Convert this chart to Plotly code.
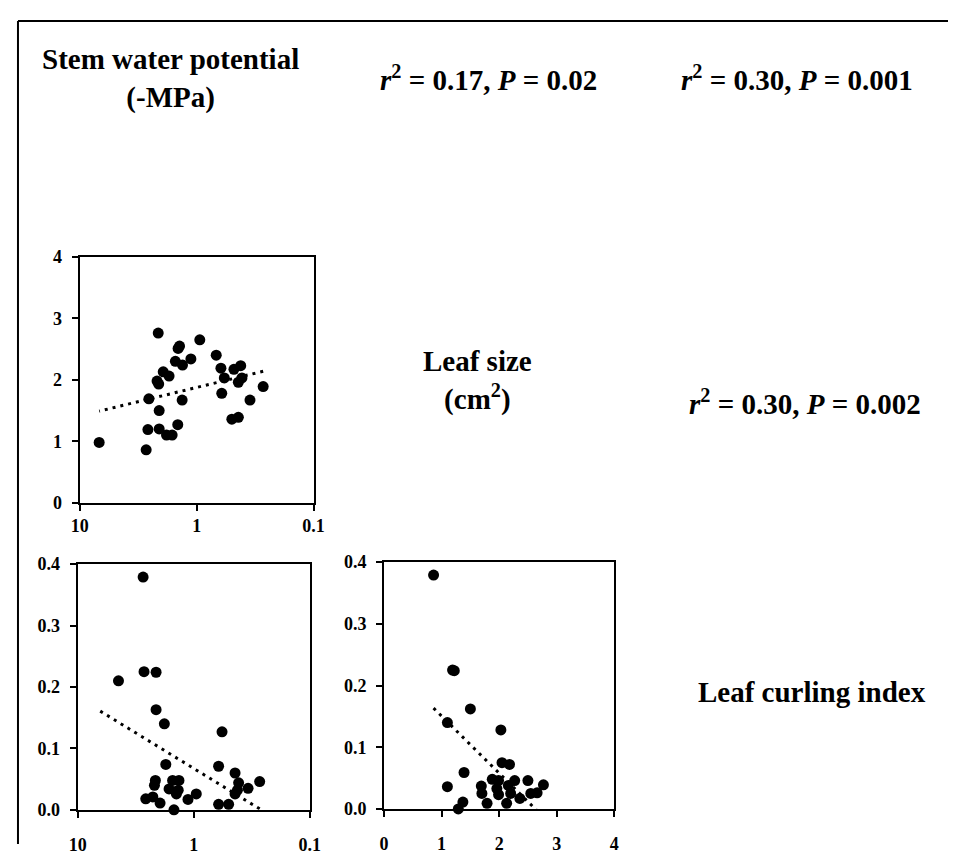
import numpy as np
import plotly.graph_objects as go

# ---------------------------------------------------------------------------
# Data
# ---------------------------------------------------------------------------
# Panel A: stem water potential (-MPa) vs leaf size (cm2)
swp_a = [6.81, 2.70, 2.61, 2.13, 2.56, 2.18, 2.11, 2.09, 2.09, 1.93, 1.72,
         1.81, 1.62, 1.45, 1.52, 1.44, 1.40, 1.32, 1.33, 1.12, 0.94, 0.68,
         0.62, 0.58, 0.61, 0.48, 0.42, 0.44, 0.41, 0.50, 0.44, 0.35, 0.27]
leaf_size_a = [0.98, 0.86, 1.19, 2.76, 1.69, 1.98, 1.93, 1.50, 1.20, 2.13, 2.06,
               1.10, 1.10, 1.27, 2.30, 2.51, 2.55, 2.24, 1.67, 2.34, 2.65, 2.40,
               2.19, 2.03, 1.78, 2.17, 2.23, 1.96, 2.03, 1.36, 1.39, 1.67, 1.89]

# Panel B: stem water potential (-MPa) vs leaf curling index
swp_b = [2.73, 4.45, 2.68, 2.11, 2.11, 1.79, 1.74, 2.14, 2.18, 2.59, 2.25,
         1.95, 1.52, 1.63, 1.34, 1.41, 1.48, 1.36, 1.12, 0.95, 0.61, 0.57,
         0.61, 0.50, 0.44, 0.41, 0.44, 0.42, 0.34, 0.27]
curl_b = [0.379, 0.210, 0.225, 0.224, 0.163, 0.140, 0.074, 0.048, 0.040, 0.018,
          0.021, 0.011, 0.048, 0.034, 0.048, 0.026, 0.000, 0.032, 0.017, 0.026,
          0.071, 0.127, 0.009, 0.009, 0.060, 0.044, 0.026, 0.032, 0.035, 0.046]

# Panel C: leaf size (cm2) vs leaf curling index
leaf_size_c = [0.86, 1.22, 1.19, 1.50, 1.10, 2.03, 1.10, 1.39, 1.37, 1.29,
               2.05, 2.18, 1.69, 1.70, 1.79, 1.88, 1.99, 1.96, 1.99, 2.16,
               2.13, 2.20, 2.27, 2.36, 2.50, 2.55, 2.66, 2.77]
curl_c = [0.379, 0.224, 0.225, 0.162, 0.140, 0.128, 0.036, 0.059, 0.011, 0.000,
          0.075, 0.072, 0.037, 0.025, 0.009, 0.048, 0.046, 0.033, 0.023, 0.038,
          0.009, 0.025, 0.046, 0.017, 0.046, 0.025, 0.026, 0.039]

log_ticks = [10, 1, 0.1]
log_ticktext = ["10", "1", "0.1"]

FONT = "Liberation Serif"
DOT_DASH = "3px,5px"

# page body has an 8px margin; size the figure so the page fits the window
OFF = 8
W, H = 967 - 2 * OFF, 863 - 2 * OFF


def fx(px):
    return (px - OFF) / W


def fy(py):
    return 1 - (py - OFF) / H


def trend(x, y, span, log_x=False):
    """Least-squares trend line evaluated over the given x span."""
    x = np.asarray(x, float)
    xs = np.log10(x) if log_x else x
    slope, icpt = np.polyfit(xs, np.asarray(y, float), 1)
    xe = np.array([min(span), max(span)])
    xe_s = np.log10(xe) if log_x else xe
    return xe, slope * xe_s + icpt


fig = go.Figure()

swp_span = swp_a + swp_b
panels = [
    (swp_a, leaf_size_a, "x", "y", True, swp_span),
    (swp_b, curl_b, "x2", "y2", True, swp_span),
    (leaf_size_c, curl_c, "x3", "y3", False, leaf_size_c),
]
for xv, yv, xa, ya, is_log, span in panels:
    tx, ty = trend(xv, yv, span, log_x=is_log)
    fig.add_trace(go.Scatter(
        x=tx, y=ty, mode="lines", xaxis=xa, yaxis=ya,
        line=dict(color="black", width=3, dash=DOT_DASH),
        showlegend=False, hoverinfo="skip",
    ))
    fig.add_trace(go.Scatter(
        x=xv, y=yv, mode="markers", xaxis=xa, yaxis=ya,
        marker=dict(color="black", size=11),
        cliponaxis=False, showlegend=False,
    ))

axis_common = dict(
    showline=True, mirror=True, linecolor="black", linewidth=2,
    ticks="outside", ticklen=6, tickwidth=2, tickcolor="black",
    showgrid=False, zeroline=False,
    tickfont=dict(family=FONT, size=18, color="black", weight="bold"),
)

fig.update_layout(
    width=W, height=H,
    margin=dict(l=0, r=0, t=0, b=0),
    paper_bgcolor="white", plot_bgcolor="white",
    xaxis=dict(axis_common, domain=[fx(72), fx(311)], anchor="y",
               type="log", range=[1, -1], tickvals=log_ticks, ticktext=log_ticktext),
    yaxis=dict(axis_common, domain=[fy(505), fy(253)], anchor="x",
               range=[0, 4], tickvals=[0, 1, 2, 3, 4], ticklabelstandoff=6),
    xaxis2=dict(axis_common, domain=[fx(70), fx(307)], anchor="y2",
                type="log", range=[1, -1], tickvals=log_ticks, ticktext=log_ticktext,
                ticklabelstandoff=12),
    yaxis2=dict(axis_common, domain=[fy(820), fy(568)], anchor="x2",
                range=[0, 0.4], tickvals=[0, 0.1, 0.2, 0.3, 0.4], tickformat=".1f",
                ticklabelstandoff=6),
    xaxis3=dict(axis_common, domain=[fx(383), fx(618)], anchor="y3",
                range=[0, 4], tickvals=[0, 1, 2, 3, 4], ticklabelstandoff=12),
    yaxis3=dict(axis_common, domain=[fy(819), fy(566)], anchor="x3",
                range=[0, 0.4], tickvals=[0, 0.1, 0.2, 0.3, 0.4], tickformat=".1f",
                ticklabelstandoff=6),
)

labels = [
    ("<b>Stem water potential<br>(-MPa)</b>", 165, 70),
    ("<b><i>r</i><sup>2</sup> = 0.17, <i>P</i> = 0.02</b>", 490, 70),
    ("<b><i>r</i><sup>2</sup> = 0.30, <i>P</i> = 0.001</b>", 805, 70),
    ("<b>Leaf size<br>(cm<sup>2</sup>)</b>", 478, 380),
    ("<b><i>r</i><sup>2</sup> = 0.30, <i>P</i> = 0.002</b>", 813, 402),
    ("<b>Leaf curling index</b>", 820, 699),
]
for text, px, py in labels:
    fig.add_annotation(
        text=text, xref="paper", yref="paper",
        x=fx(px), y=fy(py), xanchor="center", yanchor="middle",
        showarrow=False, align="center",
        font=dict(family=FONT, size=29, color="black"),
    )

# outer frame (top and left edges visible in the source)
fig.add_shape(type="line", xref="paper", yref="paper",
              x0=fx(9), x1=1, y0=fy(11), y1=fy(11),
              line=dict(color="black", width=2))
fig.add_shape(type="line", xref="paper", yref="paper",
              x0=fx(9), x1=fx(9), y0=0, y1=fy(11),
              line=dict(color="black", width=2))

fig.write_html("out.html")
